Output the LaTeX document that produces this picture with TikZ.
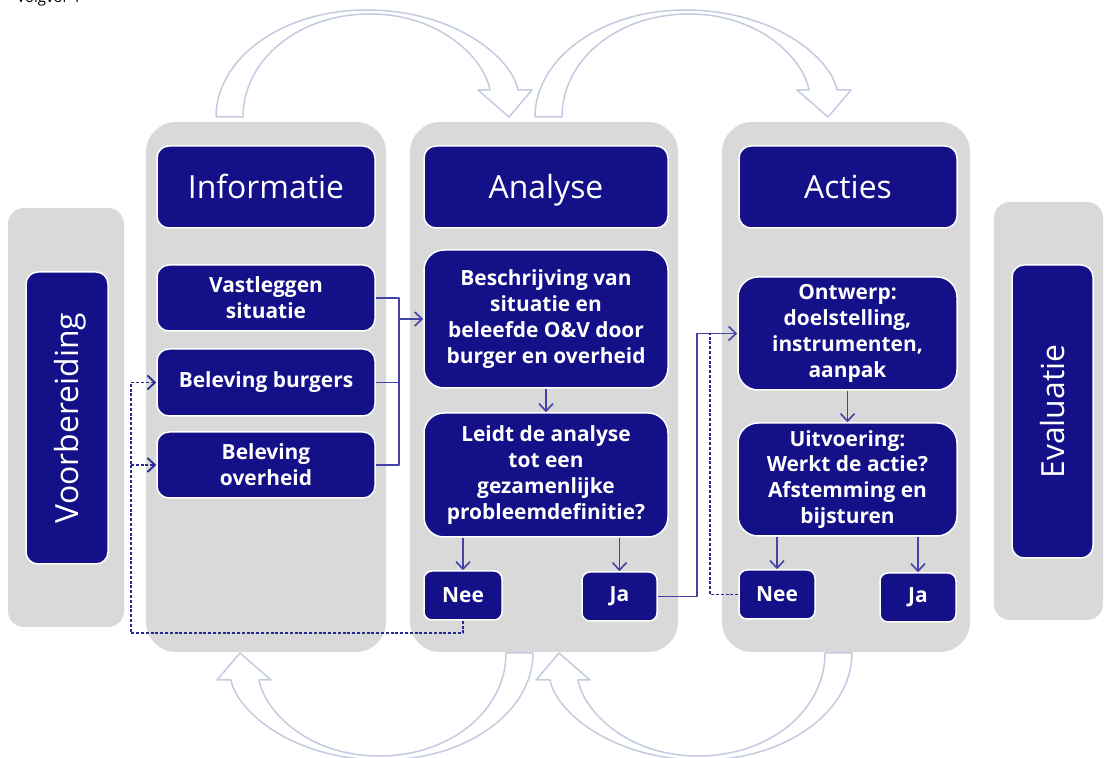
\documentclass[tikz,border=0pt]{standalone}
\usepackage{fontspec}
\setmainfont{Open Sans}
\usetikzlibrary{arrows.meta}
\definecolor{boxnavy}{RGB}{20,16,136}
\definecolor{panelgray}{RGB}{217,217,217}
\definecolor{connblue}{RGB}{66,66,170}
\definecolor{dashblue}{RGB}{40,40,150}
\definecolor{curveline}{RGB}{194,203,224}
\begin{document}
\begin{tikzpicture}[>={Straight Barb[length=7.5bp,width=14bp]},line join=bevel,
  panel/.style={fill=panelgray,draw=none,rounded corners=30bp,inner sep=0pt},
  navybox/.style={fill=boxnavy,draw=white,line width=1.5bp,rounded corners=12bp,text=white,inner sep=0pt,align=center},
  hdrtext/.style={font=\fontsize{32}{38}\selectfont,text height=23bp,text depth=0bp},
  boxtext/.style={font=\bfseries\fontsize{21}{26}\selectfont},
  conn/.style={draw=connblue,line width=1.6bp},
  dashconn/.style={draw=dashblue,line width=1.8bp,dash pattern=on 3bp off 1.8bp},
  curvearrow/.style={draw=curveline,fill=white,line width=1.5bp,line join=round},]
%%
\clip (0bp,0bp) rectangle (1105bp,758bp);
\node (txt_top) at (13bp,755.5bp) [anchor=base west,font=\fontsize{15}{18}\selectfont] {Volgvor 1};
%% hollow curved arrows
\draw [curvearrow] (216bp,641bp) ..controls (216bp,700bp) and (283bp,748bp) .. (366bp,748bp)
  ..controls (455bp,748bp) and (512bp,700bp) .. (518bp,668bp) -- (532bp,668bp) -- (509bp,641bp) -- (478bp,668bp) -- (490bp,668bp)
  ..controls (484bp,700bp) and (440bp,744bp) .. (370bp,744bp)
  ..controls (298bp,744bp) and (243bp,698bp) .. (243bp,641bp) -- cycle;
\draw [curvearrow] (535bp,641bp) ..controls (535bp,700bp) and (602bp,748bp) .. (685bp,748bp)
  ..controls (774bp,748bp) and (831bp,700bp) .. (837bp,668bp) -- (851bp,668bp) -- (828bp,641bp) -- (797bp,668bp) -- (809bp,668bp)
  ..controls (803bp,700bp) and (759bp,744bp) .. (689bp,744bp)
  ..controls (617bp,744bp) and (562bp,698bp) .. (562bp,641bp) -- cycle;
\draw [curvearrow] (533bp,105bp) ..controls (533bp,46bp) and (466bp,-2bp) .. (383bp,-2bp)
  ..controls (294bp,-2bp) and (237bp,46bp) .. (231bp,78bp) -- (217bp,78bp) -- (240bp,105bp) -- (271bp,78bp) -- (259bp,78bp)
  ..controls (265bp,46bp) and (309bp,2bp) .. (379bp,2bp)
  ..controls (451bp,2bp) and (506bp,48bp) .. (506bp,105bp) -- cycle;
\draw [curvearrow] (852bp,105bp) ..controls (852bp,46bp) and (785bp,-2bp) .. (702bp,-2bp)
  ..controls (613bp,-2bp) and (556bp,46bp) .. (550bp,78bp) -- (536bp,78bp) -- (559bp,105bp) -- (590bp,78bp) -- (578bp,78bp)
  ..controls (584bp,46bp) and (628bp,2bp) .. (698bp,2bp)
  ..controls (770bp,2bp) and (825bp,48bp) .. (825bp,105bp) -- cycle;
%% panels
\node (panel_voor) at (66bp,340.5bp) [panel,rounded corners=16bp,minimum width=116bp,minimum height=419bp] {};
  \node (panel_info) at (266bp,371bp) [panel,minimum width=240bp,minimum height=530bp] {};
  \node (panel_anal) at (544bp,371bp) [panel,minimum width=268bp,minimum height=530bp] {};
  \node (panel_act) at (846bp,371bp) [panel,minimum width=248bp,minimum height=530bp] {};
  \node (panel_eval) at (1048.5bp,347bp) [panel,rounded corners=16bp,minimum width=109bp,minimum height=418bp] {};
%% boxes
\node (box_voor) at (67bp,340bp) [navybox,hdrtext,rotate=90,minimum width=292bp,minimum height=82bp] {Voorbereiding};
  \node (box_eval) at (1052.5bp,346.5bp) [navybox,hdrtext,rotate=90,minimum width=293bp,minimum height=81bp] {Evaluatie};
  \node (hdr_info) at (266bp,571bp) [navybox,hdrtext,minimum width=218bp,minimum height=82bp] {Informatie};
  \node (hdr_anal) at (546bp,571bp) [navybox,hdrtext,minimum width=244bp,minimum height=82bp] {Analyse};
  \node (hdr_act) at (848bp,571bp) [navybox,hdrtext,minimum width=218bp,minimum height=82bp] {Acties};
  \node (box_vast) at (266bp,460bp) [navybox,boxtext,minimum width=218bp,minimum height=66bp] {Vastleggen\\situatie};
  \node (box_burg) at (266bp,375.5bp) [navybox,boxtext,minimum width=218bp,minimum height=67bp] {Beleving burgers};
  \node (box_overh) at (266bp,293bp) [navybox,boxtext,minimum width=218bp,minimum height=66bp] {Beleving\\overheid};
  \node (box_beschr) at (546bp,439bp) [navybox,boxtext,rounded corners=20bp,minimum width=244bp,minimum height=138bp] {Beschrijving van\\situatie en\\beleefde O\&V door\\burger en overheid};
  \node (box_leidt) at (546bp,283bp) [navybox,boxtext,rounded corners=20bp,minimum width=244bp,minimum height=124bp] {Leidt de analyse\\tot een\\gezamenlijke\\probleemdefinitie?};
  \node (box_nee1) at (463bp,162.5bp) [navybox,boxtext,rounded corners=8bp,minimum width=78bp,minimum height=49bp] {Nee};
  \node (box_ja1) at (619.5bp,161.5bp) [navybox,boxtext,rounded corners=8bp,minimum width=75bp,minimum height=49bp] {Ja};
  \node (box_ontw) at (847.5bp,424.5bp) [navybox,boxtext,rounded corners=20bp,minimum width=219bp,minimum height=113bp] {Ontwerp:\\doelstelling,\\instrumenten,\\aanpak};
  \node (box_uitv) at (847.5bp,278.5bp) [navybox,boxtext,rounded corners=20bp,minimum width=219bp,minimum height=113bp] {Uitvoering:\\Werkt de actie?\\Afstemming en\\bijsturen};
  \node (box_nee2) at (777bp,163.5bp) [navybox,boxtext,rounded corners=8bp,minimum width=76bp,minimum height=49bp] {Nee};
  \node (box_ja2) at (918bp,160.5bp) [navybox,boxtext,rounded corners=8bp,minimum width=76bp,minimum height=49bp] {Ja};
%% connectors
\coordinate (mrg_top) at (399bp,460bp);
  \coordinate (mrg_bot) at (399bp,293bp);
  \coordinate (ja_up) at (697bp,424.5bp);
  \coordinate (nee2_up) at (710bp,424.5bp);
  \coordinate (fb_corner) at (131bp,125bp);
  \draw [conn] (box_vast.east) -- (mrg_top) -- (mrg_bot) -- (box_overh.east);
  \draw [conn] (box_burg.east) -- (box_burg.east -| mrg_top);
  \draw [conn,->] (mrg_top |- box_beschr.west) -- (box_beschr.west);
  \draw [conn,->] (box_beschr) -- (box_leidt);
  \draw [conn,->] (box_leidt.south -| box_nee1) -- (box_nee1);
  \draw [conn,->] (box_leidt.south -| box_ja1) -- (box_ja1);
  \draw [conn,->] (box_ja1.east) -| (ja_up) -- (box_ontw.west);
  \draw [conn,->] (box_ontw) -- (box_uitv);
  \draw [conn,->] (box_uitv.south -| box_nee2) -- (box_nee2);
  \draw [conn,->] (box_uitv.south -| box_ja2) -- (box_ja2);
  \draw [dashconn] (box_nee2.west) -| (nee2_up);
  \draw [dashconn,->] (box_nee1.south) |- (fb_corner) |- (box_burg.west);
  \draw [dashconn,->] (fb_corner |- box_overh.west) -- (box_overh.west);
%
\end{tikzpicture}
\end{document}
